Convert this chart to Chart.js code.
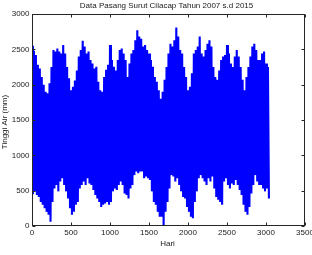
<!DOCTYPE html>
<html>
<head>
<meta charset="utf-8">
<script src="https://cdn.jsdelivr.net/npm/chart.js@4/dist/chart.umd.min.js"></script>
<style>
html,body{margin:0;padding:0;background:#fff;}
canvas{display:block;}
</style>
</head>
<body>
<canvas id="c" width="312" height="255"></canvas>
<script>
const title = "Data Pasang Surut Cilacap Tahun 2007 s.d 2015";
const xLabel = "Hari";
const yLabel = "Tinggi Air (mm)";
const xTicks = [0,500,1000,1500,2000,2500,3000,3500];
const yTicks = [0,500,1000,1500,2000,2500,3000];

// day of each envelope bin
const days = [
0,25,50,75,100,125,150,175,200,225,
250,275,300,325,350,375,400,425,450,475,
500,525,550,575,600,625,650,675,700,725,
750,775,800,825,850,875,900,925,950,975,
1000,1025,1050,1075,1100,1125,1150,1175,1200,1225,
1250,1275,1300,1325,1350,1375,1400,1425,1450,1475,
1500,1525,1550,1575,1600,1625,1650,1675,1700,1725,
1750,1775,1800,1825,1850,1875,1900,1925,1950,1975,
2000,2025,2050,2075,2100,2125,2150,2175,2200,2225,
2250,2275,2300,2325,2350,2375,2400,2425,2450,2475,
2500,2525,2550,2575,2600,2625,2650,2675,2700,2725,
2750,2775,2800,2825,2850,2875,2900,2925,2950,2975,
3000,3025];

// high water (mm) read per bin
const highWater = [
2550,2480,2420,2280,2230,2110,2000,1900,1880,2020,
2250,2490,2470,2510,2470,2440,2560,2440,2250,2090,
1920,1970,2060,2200,2400,2490,2620,2540,2440,2470,
2350,2300,2230,2255,2040,1920,1900,2110,2210,2280,
2560,2350,2255,2200,2350,2490,2510,2440,2350,2110,
2300,2440,2490,2630,2770,2680,2650,2540,2560,2490,
2440,2350,2255,2110,2040,1920,1800,1900,2070,2250,
2440,2580,2540,2630,2810,2680,2490,2440,2250,2110,
1920,1970,2160,2440,2490,2540,2680,2440,2400,2490,
2580,2630,2540,2250,2110,2070,2200,2350,2400,2420,
2560,2440,2300,2250,2400,2490,2400,2250,2070,1920,
2110,2250,2400,2540,2580,2490,2350,2350,2440,2470,
2300,2250];

// low water (mm) read per bin
const lowWater = [
450,490,440,410,340,300,250,200,160,60,
340,530,580,490,630,675,580,490,390,250,
160,200,300,340,530,580,630,580,675,600,
580,510,440,390,340,270,300,320,340,300,
340,490,530,510,580,630,580,460,440,390,
530,580,720,770,745,770,770,675,700,675,
650,490,340,300,200,130,130,15,200,340,
530,720,700,630,675,580,490,410,390,270,
200,130,110,340,490,675,720,675,630,580,
675,630,700,530,410,370,340,300,630,675,
580,530,600,580,650,580,510,440,300,200,
160,270,460,580,720,630,580,580,530,490,
530,390];

const pts = [];
for (let i = 0; i < days.length; i++) {
  pts.push({x: days[i], y: highWater[i]});
  pts.push({x: days[i] + 12.5, y: lowWater[i]});
}

const FONT = '8px "Liberation Sans", Arial, Helvetica, sans-serif';
const TXT = '#1a1a1a';

const matlabAxes = {
  id: 'matlabAxes',
  afterDraw(chart) {
    const ctx = chart.ctx;
    const a = chart.chartArea;
    const xs = chart.scales.x, ys = chart.scales.y;
    ctx.save();
    ctx.strokeStyle = '#262626';
    ctx.lineWidth = 1;
    const L = Math.round(a.left) + 0.5, R = Math.round(a.right) - 0.5;
    const T = Math.round(a.top) + 0.5, B = Math.round(a.bottom) - 0.5;
    ctx.strokeRect(L, T, R - L, B - T);
    ctx.beginPath();
    xTicks.forEach(v => {
      const p = Math.round(xs.getPixelForValue(v)) + 0.5;
      ctx.moveTo(p, B); ctx.lineTo(p, B - 3);
      ctx.moveTo(p, T); ctx.lineTo(p, T + 3);
    });
    yTicks.forEach(v => {
      const p = Math.round(ys.getPixelForValue(v)) + 0.5;
      ctx.moveTo(L, p); ctx.lineTo(L + 3, p);
      ctx.moveTo(R, p); ctx.lineTo(R - 3, p);
    });
    ctx.stroke();
    ctx.fillStyle = TXT;
    ctx.font = FONT;
    ctx.textAlign = 'center';
    ctx.textBaseline = 'top';
    xTicks.forEach(v => {
      ctx.fillText(String(v), xs.getPixelForValue(v), B + 3.5);
    });
    ctx.textAlign = 'right';
    ctx.textBaseline = 'middle';
    yTicks.forEach(v => {
      ctx.fillText(String(v), L - 3, ys.getPixelForValue(v));
    });
    ctx.textAlign = 'center';
    ctx.fillText(title, (L + R) / 2 - 2, 6);
    ctx.fillText(xLabel, (L + R) / 2 - 1, 244);
    ctx.translate(5, 122);
    ctx.rotate(-Math.PI / 2);
    ctx.fillText(yLabel, 0, 0);
    ctx.restore();
  }
};

new Chart(document.getElementById('c'), {
  type: 'line',
  data: {
    datasets: [{
      data: pts,
      borderColor: 'rgb(0,0,255)',
      borderWidth: 2.1,
      borderJoinStyle: 'miter',
      pointRadius: 0,
      tension: 0,
      fill: false
    }]
  },
  options: {
    responsive: false,
    animation: false,
    parsing: false,
    layout: {padding: {left: 32, right: 7, top: 14, bottom: 29}},
    plugins: {legend: {display: false}, tooltip: {enabled: false}, title: {display: false}},
    scales: {
      x: {type: 'linear', min: 0, max: 3500, display: false},
      y: {type: 'linear', min: 0, max: 3000, display: false}
    }
  },
  plugins: [matlabAxes]
});
</script>
</body>
</html>
